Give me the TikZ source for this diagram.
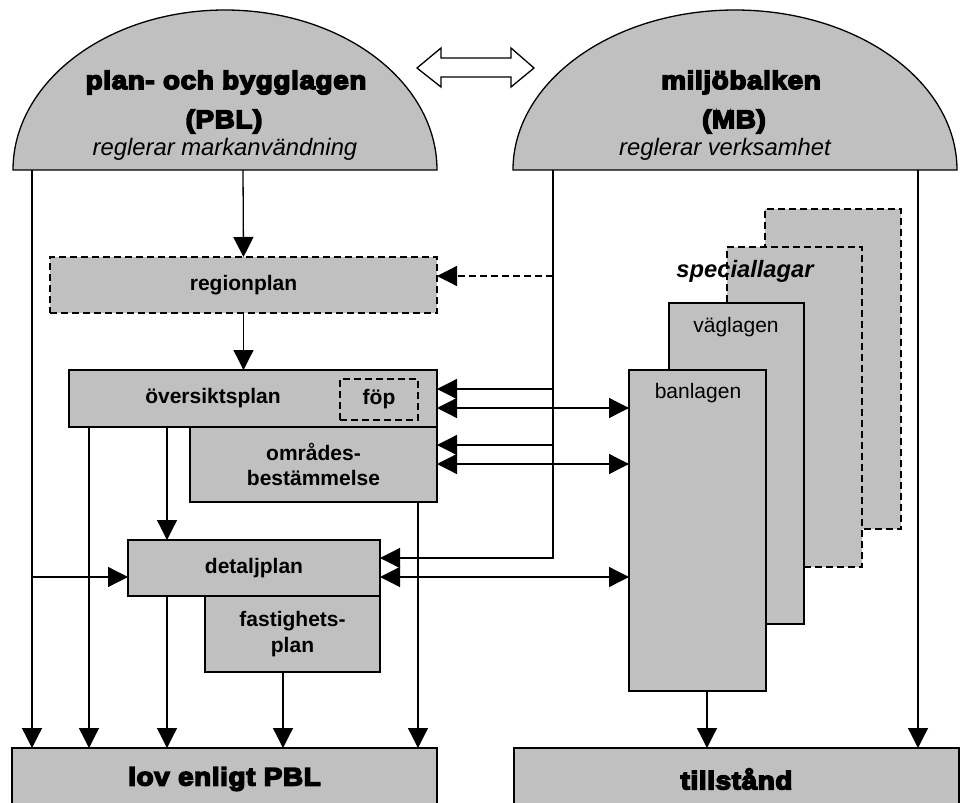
\documentclass[tikz,border=0pt]{standalone}
\usepackage{fontspec}
\setmainfont{Liberation Sans}
\newfontfamily\blackfont{Liberation Sans}[FakeStretch=1.1,LetterSpace=2.5,BoldFeatures={FakeBold=6}]
\usetikzlibrary{arrows.meta}
\definecolor{boxgray}{HTML}{C0C0C0}
\begin{document}
\begin{tikzpicture}[x=1pt,y=-1pt,
  lw/.style={line width=1.3pt},
  box/.style={draw, fill=boxgray, line width=1.3pt, inner sep=0pt, outer sep=0pt, anchor=north west, align=center, font=\fontsize{21}{25.5}\selectfont\bfseries},
  dbox/.style={box, dash pattern=on 7pt off 4pt},
  arr/.style={line width=1.3pt, -{Triangle[length=20pt,width=20pt]}},
  darr/.style={line width=1.3pt, {Triangle[length=20pt,width=20pt]}-{Triangle[length=20pt,width=20pt]}},
  txt/.style={inner sep=0pt, align=center},
  bold21/.style={txt, font=\fontsize{21}{25.5}\selectfont\bfseries},
  reg21/.style={txt, font=\fontsize{21}{25.5}\selectfont},
  blackf/.style={font=\blackfont\fontsize{25.3}{30}\selectfont\bfseries},
  title/.style={inner sep=0pt, anchor=base, blackf},
  sub/.style={inner sep=0pt, anchor=base, font=\fontsize{23.8}{28}\selectfont\itshape}
]
\clip (0,0) rectangle (962,803);
\useasboundingbox (0,0) rectangle (962,803);

% domes
\draw[lw, fill=boxgray] (13,170) .. controls (13,81.6) and (107.9,10) .. (225,10)
  .. controls (342.1,10) and (437,81.6) .. (437,170) -- cycle;
\draw[lw, fill=boxgray] (513,170) .. controls (513,81.6) and (612.4,10) .. (735,10)
  .. controls (857.6,10) and (957,81.6) .. (957,170) -- cycle;
\node[title] (pblt) at (226,89) {plan- och bygglagen};
\node[title] (pblp) at (224,128) {(PBL)};
\node[sub] (pbls) at (225,155) {reglerar markanvändning};
\node[title] (mbt) at (741,89) {miljöbalken};
\node[title] (mbp) at (734,128) {(MB)};
\node[sub] (mbs) at (725,155) {reglerar verksamhet};

% double arrow between the laws
\draw[lw, fill=white] (417,68) -- (441,48) -- (441,58) -- (511,58) -- (511,48) -- (534,68)
  -- (511,87) -- (511,77) -- (441,77) -- (441,87) -- cycle;

\coordinate (pblL) at (32,170);
\coordinate (pblM) at (243,170);
\coordinate (mbL) at (553,170);
\coordinate (mbR) at (918,170);

% PBL boxes
\node[dbox, minimum width=387pt, minimum height=56pt] (region) at (50,257) {regionplan};
\node[box, minimum width=368pt, minimum height=57pt] (oversikt) at (69,370) {};
\node[bold21] (oversiktt) at (213,398) {översiktsplan};
\node[dbox, minimum width=78pt, minimum height=41pt] (fop) at (340,379) {föp};
\node[box, minimum width=247pt, minimum height=75pt] (omrade) at (190,427) {områdes-\\bestämmelse};
\node[box, minimum width=252pt, minimum height=56pt] (detalj) at (128,540) {detaljplan};
\node[box, minimum width=175pt, minimum height=76pt] (fastig) at (205,596) {fastighets-\\plan};
\node[box, minimum width=425pt, minimum height=62pt, blackf] (lov) at (12,748) {lov enligt PBL};
\node[box, minimum width=445pt, minimum height=62pt, blackf] (till) at (514,748) {tillstånd};

% special laws
\node[dbox, minimum width=136pt, minimum height=320pt] (spec2) at (765,209) {};
\node[dbox, minimum width=135pt, minimum height=320pt] (spec1) at (727,247) {};
\node[txt, font=\fontsize{23.7}{28}\selectfont\bfseries\itshape] (spect) at (745,271) {speciallagar};
\node[box, minimum width=135pt, minimum height=321pt] (vag) at (669,303) {};
\node[reg21] (vagt) at (736,327) {väglagen};
\node[box, minimum width=137pt, minimum height=321pt] (ban) at (629,370) {};
\node[reg21] (bant) at (698,393) {banlagen};

% helper coordinates
\coordinate (r1) at ([yshift=9pt]region.east);
\coordinate (o1) at ([yshift=9.5pt]oversikt.east);
\coordinate (o2) at ([yshift=-9.5pt]oversikt.east);
\coordinate (m1) at ([yshift=19.5pt]omrade.east);
\coordinate (m2) at ([yshift=0.5pt]omrade.east);
\coordinate (d1) at ([yshift=10pt]detalj.east);
\coordinate (d2) at ([yshift=-9pt]detalj.east);
\coordinate (d3) at ([yshift=-9pt]detalj.west);
\coordinate (a1) at ([xshift=20pt]oversikt.south west);
\coordinate (a2) at ([xshift=98pt]oversikt.south west);
\coordinate (a3) at ([xshift=-19pt]omrade.south east);
\coordinate (a4) at ([xshift=39pt]detalj.south west);
\coordinate (a5) at ([xshift=78pt]fastig.south west);
\coordinate (a6) at ([xshift=9.5pt]ban.south);

% connectors
\draw[arr] (pblL) -- (pblL |- lov.north);
\draw[arr] (pblM) -- (region.north);
\draw[arr] (region.south) -- (oversikt.north -| region.south);
\draw[arr] (mbL) |- (d1);
\draw[arr, dash pattern=on 7pt off 4pt] (mbL |- r1) -- (r1);
\draw[arr] (mbL |- o1) -- (o1);
\draw[arr] (mbL |- m1) -- (m1);
\draw[darr] (o2) -- (o2 -| ban.west);
\draw[darr] (m2) -- (m2 -| ban.west);
\draw[darr] (d2) -- (d2 -| ban.west);
\draw[arr] (pblL |- d3) -- (d3);
\draw[arr] (a1) -- (a1 |- lov.north);
\draw[arr] (a2) -- (a2 |- detalj.north);
\draw[arr] (a3) -- (a3 |- lov.north);
\draw[arr] (a4) -- (a4 |- lov.north);
\draw[arr] (a5) -- (a5 |- lov.north);
\draw[arr] (a6) -- (a6 |- till.north);
\draw[arr] (mbR) -- (mbR |- till.north);
\end{tikzpicture}
\end{document}
